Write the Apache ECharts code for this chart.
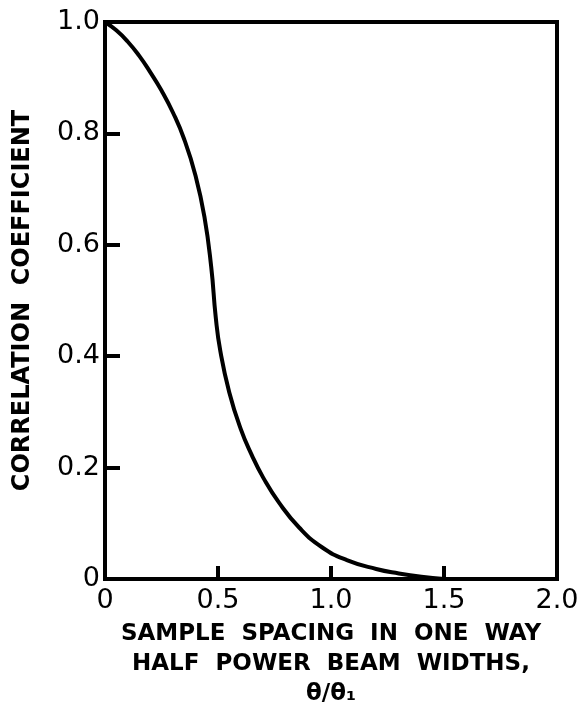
<!DOCTYPE html>
<html>
<head>
<meta charset="utf-8">
<script src="https://cdn.jsdelivr.net/npm/echarts@6/dist/echarts.min.js"></script>
<style>
  html, body { margin: 0; padding: 0; background: #fff; }
  #chart { width: 583px; height: 704px; }
</style>
</head>
<body>
<div id="chart"></div>
<script>
// 曲线数据
var spacing = [0, 0.05, 0.1, 0.15, 0.2, 0.25, 0.3, 0.35, 0.4, 0.44, 0.47, 0.49, 0.51, 0.55, 0.6, 0.65, 0.7, 0.77, 0.86, 0.96, 1.07, 1.2, 1.3, 1.4, 1.5];
var correlation = [1.0, 0.985, 0.965, 0.94, 0.91, 0.877, 0.838, 0.79, 0.725, 0.65, 0.56, 0.47, 0.41, 0.335, 0.27, 0.222, 0.182, 0.137, 0.092, 0.057, 0.034, 0.018, 0.01, 0.004, 0.0];
var xTickLabels = {0: '0', 0.5: '0.5', 1: '1.0', 1.5: '1.5', 2: '2.0'};
var yTickLabels = {0: '0', 0.2: '0.2', 0.4: '0.4', 0.6: '0.6', 0.8: '0.8', 1: '1.0'};

var points = spacing.map(function (x, i) { return [x, correlation[i]]; });

var font = 'DejaVu Sans';
var chart = echarts.init(document.getElementById('chart'));
var option = {
  backgroundColor: '#fff',
  animation: false,
  grid: {
    left: 105, right: 26, top: 22, bottom: 125,
    outerBoundsMode: 'none', containLabel: false,
    show: true, borderColor: '#000', borderWidth: 4
  },
  xAxis: {
    type: 'value', min: 0, max: 2, interval: 0.5,
    splitLine: { show: false },
    axisLine: { lineStyle: { color: '#000', width: 4 } },
    axisTick: { inside: true, length: 13, lineStyle: { color: '#000', width: 4 } },
    axisLabel: {
      margin: 8, color: '#000', fontSize: 27, fontFamily: font,
      formatter: function (v) { return xTickLabels[v]; }
    },
    name: 'SAMPLE  SPACING  IN  ONE  WAY\nHALF  POWER  BEAM  WIDTHS,\nθ/θ₁',
    nameLocation: 'middle',
    nameGap: 37,
    nameTextStyle: {
      color: '#000', fontSize: 23, fontWeight: 'bold', fontFamily: font,
      lineHeight: 30, verticalAlign: 'top'
    }
  },
  yAxis: {
    type: 'value', min: 0, max: 1, interval: 0.2,
    splitLine: { show: false },
    axisLine: { show: true, lineStyle: { color: '#000', width: 4 } },
    axisTick: { show: true, inside: true, length: 15, lineStyle: { color: '#000', width: 4 } },
    axisLabel: {
      margin: 5, color: '#000', fontSize: 27, fontFamily: font,
      formatter: function (v) { return yTickLabels[Math.round(v * 10) / 10]; }
    },
    name: 'CORRELATION  COEFFICIENT',
    nameLocation: 'middle',
    nameGap: 70,
    nameTextStyle: {
      color: '#000', fontSize: 24, fontWeight: 'bold', fontFamily: font
    }
  },
  series: [{
    type: 'line',
    data: points,
    smooth: 0.5,
    symbol: 'none',
    lineStyle: { color: '#000', width: 4 }
  }]
};
chart.setOption(option);
</script>
</body>
</html>
